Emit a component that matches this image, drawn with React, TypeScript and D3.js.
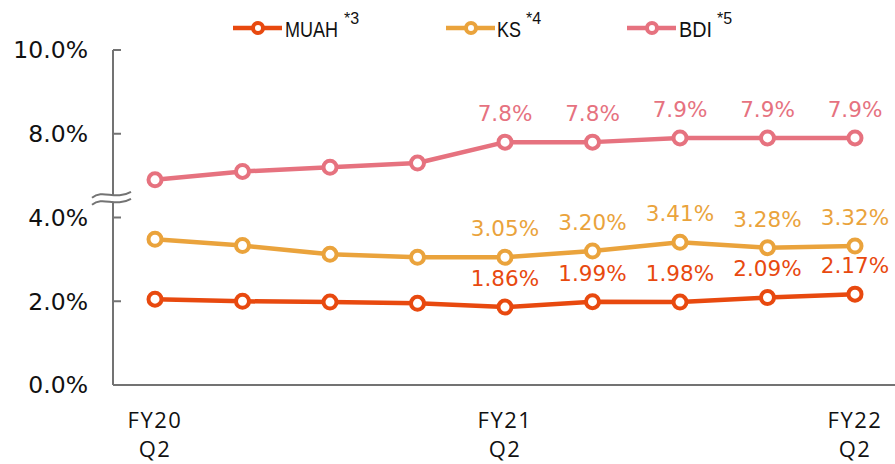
import React from "react";
import * as d3 from "d3";

const periods = ["FY20 Q2", "FY20 Q3", "FY20 Q4", "FY21 Q1", "FY21 Q2", "FY21 Q3", "FY21 Q4", "FY22 Q1", "FY22 Q2"];
const xTickLabels = [["FY20", "Q2"], null, null, null, ["FY21", "Q2"], null, null, null, ["FY22", "Q2"]];
const muah = [2.05, 2.0, 1.98, 1.95, 1.86, 1.99, 1.98, 2.09, 2.17];
const ks = [3.48, 3.33, 3.12, 3.05, 3.05, 3.2, 3.41, 3.28, 3.32];
const bdi = [6.9, 7.1, 7.2, 7.3, 7.8, 7.8, 7.9, 7.9, 7.9];
const muahLabels = [null, null, null, null, "1.86%", "1.99%", "1.98%", "2.09%", "2.17%"];
const ksLabels = [null, null, null, null, "3.05%", "3.20%", "3.41%", "3.28%", "3.32%"];
const bdiLabels = [null, null, null, null, "7.8%", "7.8%", "7.9%", "7.9%", "7.9%"];
const yTicks = [0, 2, 4, 8, 10];
const yTickLabels = ["0.0%", "2.0%", "4.0%", "8.0%", "10.0%"];
const breakValue = 4.47; // in compressed units
const breakOffset = 2; // values above break are shifted down by this amount

const W = 895;
const H = 464;
const axisX = 113;
const axisColor = "#737373";
const font = "'DejaVu Sans', Verdana, sans-serif";

const series = [
  { name: "MUAH", sup: "*3", values: muah, labels: muahLabels, color: "#E8490F" },
  { name: "KS", sup: "*4", values: ks, labels: ksLabels, color: "#EAA33C" },
  { name: "BDI", sup: "*5", values: bdi, labels: bdiLabels, color: "#E6727F" },
];

const legendPos = [
  { lx: 233, tx: 285, tw: 53, sx: 344 },
  { lx: 446, tx: 497, tw: 24, sx: 526 },
  { lx: 627, tx: 679, tw: 33, sx: 717 },
];

const toPlot = (v: number) => (v > 5 ? v - breakOffset : v);

export default function App() {
  const x = d3.scalePoint<number>().domain(d3.range(periods.length)).range([155, 855]);
  const y = d3.scaleLinear().domain([0, 8]).range([385, 50]);
  const line = d3
    .line<number>()
    .x((_, i) => x(i)!)
    .y((v) => y(toPlot(v)));

  const by = y(breakValue);
  const wave = (dy: number) =>
    `M ${axisX - 21} ${by + dy + 3} C ${axisX - 10} ${by + dy - 6}, ${axisX + 2} ${by + dy + 6}, ${axisX + 18} ${by + dy - 3}`;

  return (
    <svg width={W} height={H} style={{ position: "absolute", left: 0, top: 0, background: "#fff" }}>
      {/* axes */}
      <line x1={axisX} x2={axisX} y1={y(8)} y2={y(0)} stroke={axisColor} strokeWidth={2} />
      <line x1={axisX} x2={W} y1={y(0)} y2={y(0)} stroke={axisColor} strokeWidth={2} />
      {yTicks.map((t, i) => {
        const yy = y(toPlot(t));
        return (
          <g key={t}>
            <line x1={axisX} x2={axisX + 8} y1={yy} y2={yy} stroke={axisColor} strokeWidth={2} />
            <text x={88} y={yy} dy="0.36em" textAnchor="end" fontFamily={font} fontSize={23.5} fill="#111">
              {yTickLabels[i]}
            </text>
          </g>
        );
      })}
      {/* break */}
      <path
        d={`${wave(-3)} L ${axisX + 18} ${by + 3} C ${axisX + 2} ${by + 9}, ${axisX - 10} ${by - 3}, ${axisX - 21} ${by + 6} Z`}
        fill="#fff"
        stroke="none"
      />
      <path d={wave(-3)} fill="none" stroke={axisColor} strokeWidth={2} />
      <path d={wave(4)} fill="none" stroke={axisColor} strokeWidth={2} />

      {/* x labels */}
      {xTickLabels.map((lab, i) =>
        lab ? (
          <text key={i} x={x(i)} textAnchor="middle" fontFamily="'Open Sans', sans-serif" fontSize={22} letterSpacing={1.5} fill="#111">
            <tspan x={x(i)} y={428}>{lab[0]}</tspan>
            <tspan x={x(i)} y={457}>{lab[1]}</tspan>
          </text>
        ) : null
      )}

      {/* series */}
      {series.map((s) => (
        <g key={s.name}>
          <path d={line(s.values) || ""} fill="none" stroke={s.color} strokeWidth={4.5} strokeLinejoin="round" />
          {s.values.map((v, i) => (
            <circle key={i} cx={x(i)} cy={y(toPlot(v))} r={6.5} fill="#fff" stroke={s.color} strokeWidth={4} />
          ))}
          {s.labels.map((lab, i) =>
            lab ? (
              <text key={i} x={x(i)} y={y(toPlot(s.values[i])) - 21} textAnchor="middle" fontFamily={font} fontSize={21.5} fill={s.color}>
                {lab}
              </text>
            ) : null
          )}
        </g>
      ))}

      {/* legend */}
      {series.map((s, i) => {
        const p = legendPos[i];
        return (
          <g key={s.name}>
            <line x1={p.lx} x2={p.lx + 49} y1={28} y2={28} stroke={s.color} strokeWidth={4.5} />
            <circle cx={p.lx + 25} cy={28} r={5} fill="#fff" stroke={s.color} strokeWidth={4} />
            <text
              x={p.tx}
              y={37}
              fontFamily="'Liberation Sans', Arial, sans-serif"
              fontSize={22}
              fill="#111"
              textLength={p.tw}
              lengthAdjust="spacingAndGlyphs"
            >
              {s.name}
            </text>
            <text x={p.sx} y={24} fontFamily="'Liberation Sans', Arial, sans-serif" fontSize={16} fill="#111">
              {s.sup}
            </text>
          </g>
        );
      })}
    </svg>
  );
}
